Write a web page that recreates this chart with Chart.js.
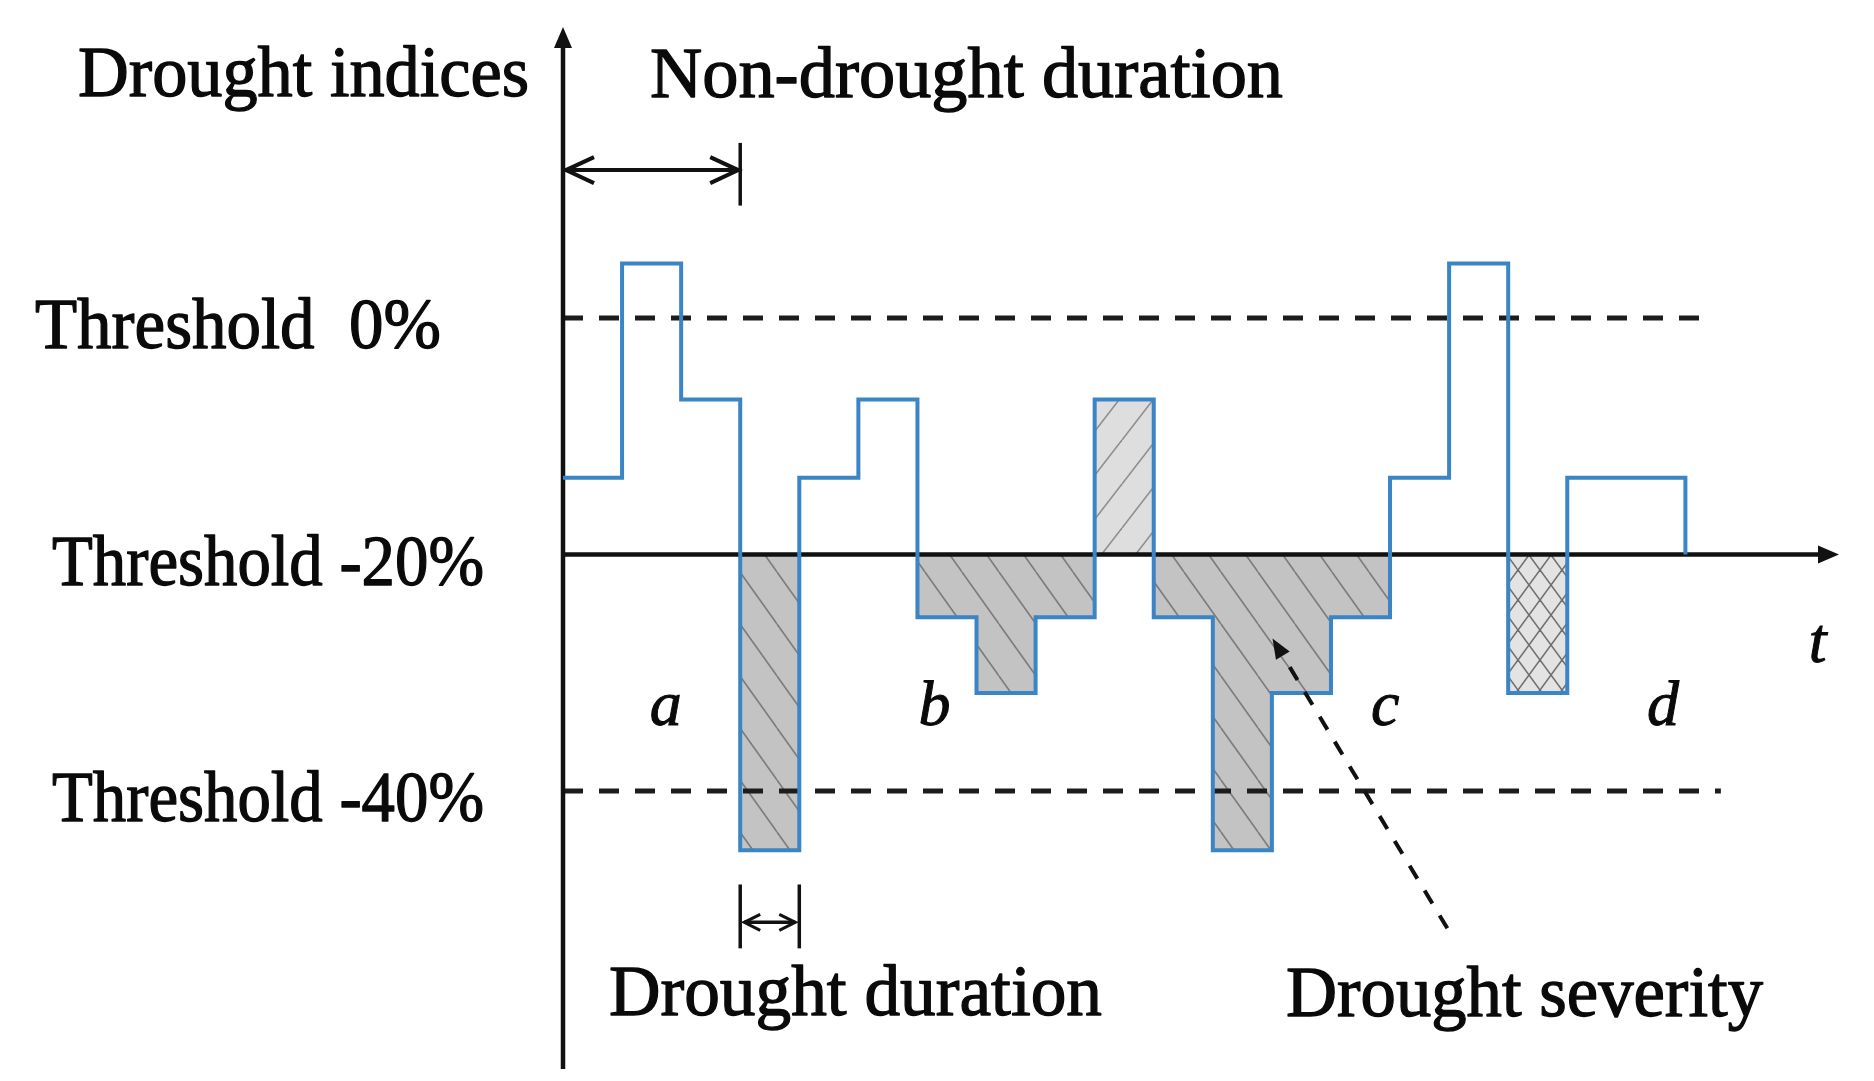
<!DOCTYPE html>
<html>
<head>
<meta charset="utf-8">
<script src="https://cdn.jsdelivr.net/npm/chart.js@4.4.1/dist/chart.umd.min.js"></script>
<style>
html,body{margin:0;padding:0;background:#ffffff;}
#wrap{width:1874px;height:1081px;position:relative;}
</style>
</head>
<body>
<div id="wrap"><canvas id="c"></canvas></div>
<script>
// ---------------- data ----------------
const periods = [1,2,3,4,5,6,7,8,9,10,11,12,13,14,15,16,17,18,19];
const indexValues = [-13.5, 4.6, -6.9, -45, -13.5, -6.9, -25.3, -31.7, -25.3, -6.9,
                     -25.3, -45, -31.7, -25.3, -13.5, 4.6, -31.7, -13.5, -13.5];
const thresholdValues = [0, -20, -40];
const thresholdLabels = ['Threshold  0%', 'Threshold -20%', 'Threshold -40%'];
const thresholdEnds = [19.45, 21.6, 19.6];
const pooledPeriods = [10];
const minorPeriods = [17];
const eventLabels = ['a', 'b', 'c', 'd'];
const eventLabelX = [1.74, 6.29, 13.92, 18.62];
const eventLabelY = -34.4;
const timeLabel = 't';
const nonDroughtSpan = [0, 3];
const droughtSpan = [3, 4];
const severityArrow = {from: [14.97, -51.6], to: [12.01, -27.1]};

// ---------------- derived series ----------------
const base = thresholdValues[1];
function stepPoints(vals) {
  const pts = vals.map((v, i) => ({x: i, y: v}));
  pts.push({x: vals.length, y: vals[vals.length - 1]});
  return pts;
}
const droughtVals = indexValues.map((v, i) => (v < base && !minorPeriods.includes(periods[i])) ? v : base);
const pooledVals = indexValues.map((v, i) => pooledPeriods.includes(periods[i]) ? v : base);
const minorVals = indexValues.map((v, i) => minorPeriods.includes(periods[i]) ? v : base);
const linePts = stepPoints(indexValues).concat([{x: indexValues.length, y: base}]);

// ---------------- patterns ----------------
function hatch(w, h, bg, fg, lw, dirs) {
  const c = document.createElement('canvas');
  c.width = w; c.height = h;
  const g = c.getContext('2d');
  g.fillStyle = bg; g.fillRect(0, 0, w, h);
  g.strokeStyle = fg; g.lineWidth = lw;
  dirs.forEach(d => {
    for (let k = -1; k <= 1; k++) {
      g.beginPath();
      if (d === '\\') { g.moveTo(k * w, 0); g.lineTo(k * w + w, h); }
      else { g.moveTo(k * w, h); g.lineTo(k * w + w, 0); }
      g.stroke();
    }
  });
  return g.createPattern(c, 'repeat');
}
const droughtPattern = hatch(37, 52, '#c3c3c3', '#7c7c7c', 1.6, ['\\']);
const pooledPattern = hatch(34, 44, '#dedede', '#8e8e8e', 1.6, ['/']);
const minorPattern = hatch(22, 30, '#e3e3e3', '#6f6f6f', 1.6, ['\\', '/']);

// ---------------- datasets ----------------
const datasets = [
  {label: 'Drought index', data: linePts, stepped: 'before', borderColor: '#3b84c6', borderWidth: 4,
   borderJoinStyle: 'miter', borderCapStyle: 'butt', pointRadius: 0, fill: false, order: 0},
  {label: 'Threshold 0%', data: [{x: 0, y: thresholdValues[0]}, {x: thresholdEnds[0], y: thresholdValues[0]}],
   borderColor: '#1c1c1c', borderWidth: 5, borderDash: [20, 16], pointRadius: 0, fill: false, order: 1},
  {label: 'Threshold -40%', data: [{x: 0, y: thresholdValues[2]}, {x: thresholdEnds[2], y: thresholdValues[2]}],
   borderColor: '#1c1c1c', borderWidth: 5, borderDash: [20, 16], pointRadius: 0, fill: false, order: 1},
  {label: 'Drought severity', data: stepPoints(droughtVals), stepped: 'before', borderWidth: 0,
   borderColor: 'rgba(0,0,0,0)', backgroundColor: droughtPattern, pointRadius: 0, fill: {value: base}, order: 2},
  {label: 'Pooled', data: stepPoints(pooledVals), stepped: 'before', borderWidth: 0,
   borderColor: 'rgba(0,0,0,0)', backgroundColor: pooledPattern, pointRadius: 0, fill: {value: base}, order: 3},
  {label: 'Minor', data: stepPoints(minorVals), stepped: 'before', borderWidth: 0,
   borderColor: 'rgba(0,0,0,0)', backgroundColor: minorPattern, pointRadius: 0, fill: {value: base}, order: 4}
];

// ---------------- helpers ----------------
const SERIF = "'Liberation Serif', 'DejaVu Serif', serif";
function fitText(ctx, str, left, baseline, width, size, style) {
  ctx.save();
  ctx.font = (style ? style + ' ' : '') + size + 'px ' + SERIF;
  ctx.textAlign = 'left';
  ctx.textBaseline = 'alphabetic';
  ctx.fillStyle = '#0a0a0a';
  ctx.strokeStyle = '#0a0a0a';
  ctx.lineWidth = 1.3;
  ctx.lineJoin = 'round';
  const m = ctx.measureText(str).width;
  const sx = width ? width / m : 1;
  ctx.translate(left, baseline);
  ctx.scale(sx, 1);
  ctx.fillText(str, 0, 0);
  ctx.strokeText(str, 0, 0);
  ctx.restore();
}
function chevron(ctx, tx, ty, dir, len, half) {
  ctx.beginPath();
  ctx.moveTo(tx - dir * len, ty - half);
  ctx.lineTo(tx, ty);
  ctx.lineTo(tx - dir * len, ty + half);
  ctx.stroke();
}

// ---------------- plugins ----------------
const axesPlugin = {
  id: 'axesPlugin',
  beforeDatasetDraw(chart, args) {
    if (chart.data.datasets[args.index].label !== 'Drought index') return;
    const xs = chart.scales.x, ys = chart.scales.y, ctx = chart.ctx;
    const x0 = xs.getPixelForValue(0), yb = ys.getPixelForValue(base);
    const top = ys.getPixelForValue(ys.max), bottom = ys.getPixelForValue(ys.min);
    const right = xs.getPixelForValue(xs.max);
    ctx.save();
    ctx.strokeStyle = '#111'; ctx.fillStyle = '#111'; ctx.lineWidth = 4.5; ctx.lineCap = 'butt';
    ctx.beginPath(); ctx.moveTo(x0, bottom); ctx.lineTo(x0, top + 16); ctx.stroke();
    ctx.beginPath(); ctx.moveTo(x0, top); ctx.lineTo(x0 - 9, top + 21); ctx.lineTo(x0 + 9, top + 21); ctx.closePath(); ctx.fill();
    ctx.beginPath(); ctx.moveTo(x0 - 2, yb); ctx.lineTo(right - 16, yb); ctx.stroke();
    ctx.beginPath(); ctx.moveTo(right, yb); ctx.lineTo(right - 21, yb - 9); ctx.lineTo(right - 21, yb + 9); ctx.closePath(); ctx.fill();
    ctx.restore();
  }
};

const annotPlugin = {
  id: 'annotPlugin',
  afterDatasetsDraw(chart) {
    const xs = chart.scales.x, ys = chart.scales.y, ctx = chart.ctx;
    const X = v => xs.getPixelForValue(v), Y = v => ys.getPixelForValue(v);
    ctx.save();
    ctx.strokeStyle = '#111'; ctx.fillStyle = '#111';

    // Non-drought duration double arrow
    const ay = Y(12.5);
    const ax0 = X(nonDroughtSpan[0]), ax1 = X(nonDroughtSpan[1]);
    ctx.lineWidth = 4;
    ctx.beginPath(); ctx.moveTo(ax0 + 2, ay); ctx.lineTo(ax1, ay); ctx.stroke();
    chevron(ctx, ax0 + 3, ay, -1, 28, 13);
    chevron(ctx, ax1 - 2, ay, 1, 28, 13);
    ctx.lineWidth = 3.5;
    ctx.beginPath(); ctx.moveTo(ax1, Y(14.8)); ctx.lineTo(ax1, Y(9.5)); ctx.stroke();

    // Drought duration marker
    const dy = Y(-51.1);
    const dx0 = X(droughtSpan[0]), dx1 = X(droughtSpan[1]);
    ctx.lineWidth = 3.5;
    ctx.beginPath(); ctx.moveTo(dx0, Y(-47.9)); ctx.lineTo(dx0, Y(-53.3)); ctx.stroke();
    ctx.beginPath(); ctx.moveTo(dx1, Y(-47.9)); ctx.lineTo(dx1, Y(-53.3)); ctx.stroke();
    ctx.beginPath(); ctx.moveTo(dx0 + 4, dy); ctx.lineTo(dx1 - 4, dy); ctx.stroke();
    ctx.lineWidth = 3;
    chevron(ctx, dx0 + 4, dy, -1, 16, 8);
    chevron(ctx, dx1 - 4, dy, 1, 16, 8);

    // Drought severity dashed arrow
    const sx0 = X(severityArrow.from[0]), sy0 = Y(severityArrow.from[1]);
    const sx1 = X(severityArrow.to[0]), sy1 = Y(severityArrow.to[1]);
    const ang = Math.atan2(sy1 - sy0, sx1 - sx0);
    const hl = 20, hw = 8;
    const bx = sx1 - hl * Math.cos(ang), by = sy1 - hl * Math.sin(ang);
    ctx.lineWidth = 4;
    ctx.setLineDash([15, 14]);
    ctx.beginPath(); ctx.moveTo(sx0, sy0); ctx.lineTo(bx, by); ctx.stroke();
    ctx.setLineDash([]);
    ctx.beginPath();
    ctx.moveTo(sx1, sy1);
    ctx.lineTo(bx + hw * Math.sin(ang), by - hw * Math.cos(ang));
    ctx.lineTo(bx - hw * Math.sin(ang), by + hw * Math.cos(ang));
    ctx.closePath(); ctx.fill();
    ctx.restore();

    // Texts
    fitText(ctx, 'Drought indices', 78, 96, 451, 72);
    fitText(ctx, 'Non-drought duration', 650, 97, 633, 72);
    const tLeft = [35, 52, 52], tW = [406, 432, 432];
    thresholdValues.forEach((t, i) => fitText(ctx, thresholdLabels[i], tLeft[i], Y(t) + 30, tW[i], 72));
    fitText(ctx, 'Drought duration', 609, 1015, 493, 72);
    fitText(ctx, 'Drought severity', 1286, 1016, 477, 72);

    ctx.save();
    ctx.font = 'italic 64px ' + SERIF;
    ctx.fillStyle = '#0a0a0a';
    ctx.strokeStyle = '#0a0a0a';
    ctx.lineWidth = 1;
    ctx.textAlign = 'center'; ctx.textBaseline = 'alphabetic';
    eventLabels.forEach((l, i) => {
      ctx.fillText(l, X(eventLabelX[i]), Y(eventLabelY));
      ctx.strokeText(l, X(eventLabelX[i]), Y(eventLabelY));
    });
    ctx.fillText(timeLabel, X(21.24), Y(-29.1));
    ctx.strokeText(timeLabel, X(21.24), Y(-29.1));
    ctx.restore();
  }
};

new Chart(document.getElementById('c'), {
  type: 'line',
  data: {datasets: datasets},
  options: {
    responsive: true,
    maintainAspectRatio: false,
    animation: false,
    devicePixelRatio: 1,
    events: [],
    layout: {padding: {left: 563, right: 35, top: 27, bottom: 12}},
    plugins: {legend: {display: false}, tooltip: {enabled: false}, title: {display: false}},
    scales: {
      x: {type: 'linear', min: 0, max: 21.6, display: false},
      y: {type: 'linear', min: -63.5, max: 24.6, display: false}
    },
    elements: {point: {radius: 0}, line: {tension: 0}}
  },
  plugins: [axesPlugin, annotPlugin]
});
</script>
</body>
</html>
